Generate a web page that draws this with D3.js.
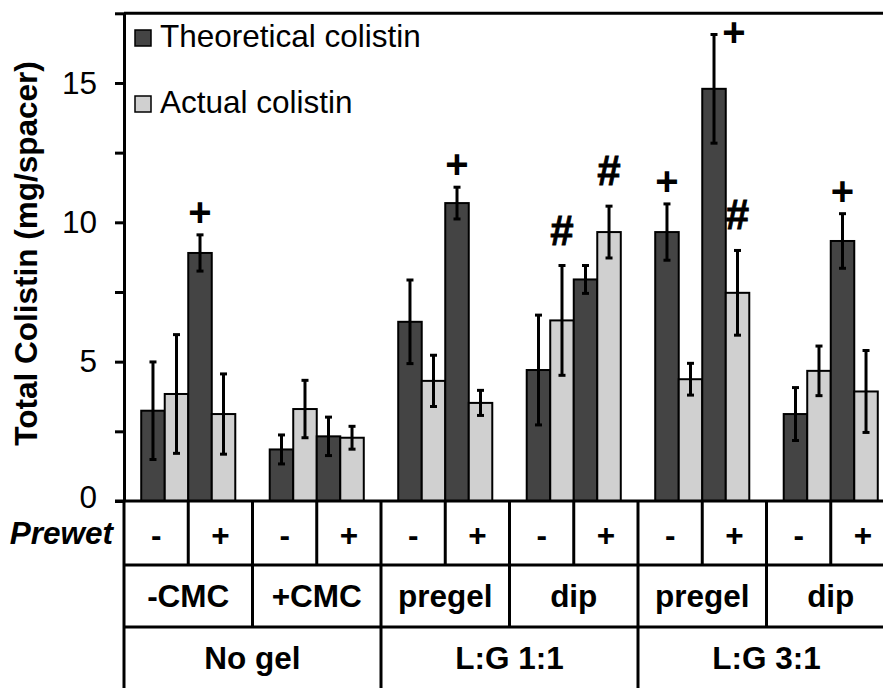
<!DOCTYPE html>
<html>
<head>
<meta charset="utf-8">
<script src="https://cdn.jsdelivr.net/npm/d3@7"></script>
<style>
  body { margin: 0; background: #fff; }
  svg { display: block; font-family: "Liberation Sans", Arial, sans-serif; }
</style>
</head>
<body>
<svg id="chart" width="883" height="688"></svg>
<script>
// categorias e níveis da tabela
const categories = ["-CMC", "+CMC", "pregel", "dip", "pregel", "dip"];
const gelGroups = ["No gel", "L:G 1:1", "L:G 3:1"];
const prewet = ["-", "+"];
const seriesNames = ["Theoretical colistin", "Actual colistin"];

// valores por (categoria, prewet): -,+,-,+ ...
const theoMean = [3.24, 8.90, 1.85, 2.32, 6.43, 10.69, 4.70, 7.95, 9.65, 14.79, 3.12, 9.33];
const theoErr  = [1.75, 0.65, 0.52, 0.69, 1.50, 0.57, 1.97, 0.50, 1.01, 1.95, 0.95, 0.98];
const actMean  = [3.84, 3.12, 3.30, 2.27, 4.31, 3.52, 6.48, 9.65, 4.37, 7.47, 4.67, 3.93];
const actErr   = [2.13, 1.44, 1.03, 0.41, 0.92, 0.45, 1.97, 0.93, 0.57, 1.52, 0.89, 1.47];
const theoMark = ["", "+", "", "", "", "+", "", "", "+", "+", "", "+"];
const actMark  = ["", "", "", "", "", "", "#", "#", "", "#", "", ""];

const yTicks = [0, 2.5, 5, 7.5, 10, 12.5, 15, 17.5];

const colors = ["#444444", "#d0d0d0"];
const left = 124, right = 895, yTop = 13.3, yBase = 501;
const rowY = [501, 565, 627, 690];
const fs = 31.5;

const svg = d3.select("#chart");

const x = d3.scaleBand()
    .domain(d3.range(categories.length))
    .range([left, right])
    .paddingInner(0.268)
    .paddingOuter(0.134);

const xSub = d3.scaleBand()
    .domain(d3.range(4))
    .range([0, x.bandwidth()]);

const y = d3.scaleLinear()
    .domain([0, 17.5])
    .range([yBase, yTop]);

// montar barras: ordem teórico-, real-, teórico+, real+
const bars = [];
categories.forEach((c, ci) => {
    prewet.forEach((p, pi) => {
        const i = ci * 2 + pi;
        bars.push({ ci, k: pi * 2, s: 0, v: theoMean[i], e: theoErr[i], mark: theoMark[i] });
        bars.push({ ci, k: pi * 2 + 1, s: 1, v: actMean[i], e: actErr[i], mark: actMark[i] });
    });
});
const bx = d => x(d.ci) + xSub(d.k);
const bw = xSub.bandwidth();

svg.append("g").selectAll("rect")
    .data(bars)
    .enter().append("rect")
    .attr("x", bx)
    .attr("y", d => y(d.v))
    .attr("width", bw)
    .attr("height", d => y(0) - y(d.v))
    .attr("fill", d => colors[d.s])
    .attr("stroke", "#000")
    .attr("stroke-width", 2);

// barras de erro
const eb = svg.append("g").attr("stroke", "#000").attr("stroke-width", 3);
bars.forEach(d => {
    const cx = bx(d) + bw / 2;
    eb.append("line").attr("x1", cx).attr("x2", cx)
        .attr("y1", y(d.v + d.e)).attr("y2", y(d.v - d.e));
    [d.v + d.e, d.v - d.e].forEach(v => {
        eb.append("line").attr("x1", cx - 3.5).attr("x2", cx + 3.5)
            .attr("y1", y(v)).attr("y2", y(v));
    });
});

// marcas de significância
bars.filter(d => d.mark).forEach(d => {
    const cx = bx(d) + bw / 2;
    const top = y(d.v + d.e);
    let tx = cx, ty = top - (d.mark === "#" ? 21 : 9);
    if (ty - 30 < yTop) { // sem espaço em cima: coloca ao lado
        tx = cx + 20;
        ty = top + 12;
    }
    svg.append("text")
        .attr("x", tx)
        .attr("y", ty)
        .attr("text-anchor", "middle")
        .style("font-size", d.mark === "#" ? "42px" : "40px")
        .style("font-weight", "bold")
        .style("stroke", d.mark === "#" ? "#000" : "none")
        .style("stroke-width", 0.8)
        .text(d.mark);
});

// eixo y
const yAxis = svg.append("g")
    .attr("transform", `translate(${left},0)`)
    .call(d3.axisLeft(y)
        .tickValues(yTicks)
        .tickSize(9)
        .tickSizeOuter(0)
        .tickPadding(18)
        .tickFormat(d => d % 5 === 0 ? d : ""));
yAxis.select(".domain").attr("stroke-width", 3);
yAxis.selectAll(".tick line").attr("stroke-width", 3);
yAxis.selectAll(".tick text")
    .style("font-size", fs + "px")
    .style("font-family", "Liberation Sans, Arial, sans-serif")
    .attr("fill", "#000");
// o "0" sobe um pouco para não encostar em "Prewet"
yAxis.selectAll(".tick text").filter(d => d === 0).attr("dy", "0.22em");

// borda superior
svg.append("line")
    .attr("x1", left).attr("x2", 883)
    .attr("y1", y(17.5)).attr("y2", y(17.5))
    .attr("stroke", "#000").attr("stroke-width", 3);

// título do eixo y
svg.append("text")
    .attr("transform", `translate(37, ${(60 + 447) / 2}) rotate(-90)`)
    .attr("text-anchor", "middle")
    .style("font-size", fs + "px")
    .style("font-weight", "bold")
    .text("Total Colistin (mg/spacer)");

// legenda
seriesNames.forEach((name, i) => {
    const ly = 38 + i * 66;
    svg.append("rect")
        .attr("x", 135).attr("y", ly - 8)
        .attr("width", 16).attr("height", 16)
        .attr("fill", colors[i])
        .attr("stroke", "#000").attr("stroke-width", 1.5);
    svg.append("text")
        .attr("x", 160).attr("y", ly + 9)
        .style("font-size", fs + "px")
        .text(name);
});

// tabela abaixo do eixo
const tbl = svg.append("g");
const step = x.step();
const half = step / 2;
const hl = tbl.append("g").attr("stroke", "#000").attr("stroke-width", 3);
rowY.forEach(ry => {
    hl.append("line").attr("x1", ry === yBase ? left - 9 : left).attr("x2", right)
        .attr("y1", ry).attr("y2", ry);
});
// linhas verticais
d3.range(0, categories.length * 2 + 1).forEach(j => {
    hl.append("line").attr("x1", left + j * half).attr("x2", left + j * half)
        .attr("y1", rowY[0]).attr("y2", rowY[1]);
});
d3.range(0, categories.length + 1).forEach(j => {
    hl.append("line").attr("x1", left + j * step).attr("x2", left + j * step)
        .attr("y1", rowY[1]).attr("y2", rowY[2]);
});
d3.range(0, gelGroups.length + 1).forEach(j => {
    hl.append("line").attr("x1", left + j * step * 2).attr("x2", left + j * step * 2)
        .attr("y1", rowY[2]).attr("y2", rowY[3]);
});

const cellText = (tx, ty, t) => tbl.append("text")
    .attr("x", tx).attr("y", ty)
    .attr("dy", "0.35em")
    .attr("text-anchor", "middle")
    .style("font-size", fs + "px")
    .style("font-weight", "bold")
    .text(t);

categories.forEach((c, ci) => {
    prewet.forEach((p, pi) => {
        cellText(left + (ci * 2 + pi + 0.5) * half, (rowY[0] + rowY[1]) / 2 + 2, p);
    });
    cellText(left + (ci + 0.5) * step, (rowY[1] + rowY[2]) / 2, c);
});
gelGroups.forEach((g, gi) => {
    cellText(left + (gi + 0.5) * step * 2, (rowY[2] + rowY[3]) / 2 - 1, g);
});

svg.append("text")
    .attr("x", 113).attr("y", (rowY[0] + rowY[1]) / 2)
    .attr("dy", "0.35em")
    .attr("text-anchor", "end")
    .style("font-size", fs + "px")
    .style("font-weight", "bold")
    .style("font-style", "italic")
    .text("Prewet");
</script>
</body>
</html>
